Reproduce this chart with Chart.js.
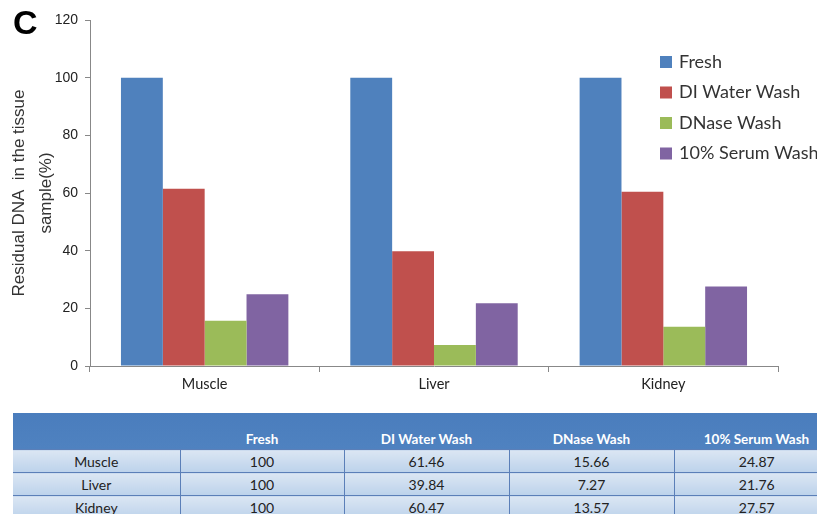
<!DOCTYPE html>
<html>
<head>
<meta charset="utf-8">
<script src="https://cdn.jsdelivr.net/npm/chart.js@4.4.0/dist/chart.umd.min.js"></script>
<style>
    html, body { margin: 0; padding: 0; background: #fff; overflow: hidden; }
    #wrap { position: relative; width: 817px; height: 514px; overflow: hidden; }
    #chartBox { position: absolute; left: 0; top: 0; width: 817px; height: 400px; }
    #panel { position: absolute; left: 13px; top: 3px; font: bold 34px "Liberation Sans", Arial, sans-serif; color: #000; }
    #dataTable { position: absolute; left: 13px; top: 413px; width: 826px; border-collapse: collapse; font-family: Lato, "Noto Sans", sans-serif; table-layout: fixed; }
    #dataTable th { background: linear-gradient(#4a7dbd, #4f82c0); color: #fff; font-size: 13.5px; font-weight: bold; height: 34px; vertical-align: bottom; padding: 0 0 2px 0; border: none; }
    #dataTable td { background: linear-gradient(#dbe6f3, #bcd2eb); color: #222; font-size: 14px; text-align: center; height: 22px; padding: 0; border-top: 1px solid #5b7fb8; border-left: 1px solid #5b7fb8; }
    #dataTable td:first-child { border-left: none; }
</style>
</head>
<body>
<div id="wrap">
    <div id="chartBox"><canvas id="dnaChart"></canvas></div>
    <div id="panel">C</div>
    <table id="dataTable"></table>
</div>
<script>
const tissues = ['Muscle', 'Liver', 'Kidney'];
const seriesNames = ['Fresh', 'DI Water Wash', 'DNase Wash', '10% Serum Wash'];
const fresh = [100, 100, 100];
const diWater = [61.46, 39.84, 60.47];
const dnase = [15.66, 7.27, 13.57];
const serum = [24.87, 21.76, 27.57];
const yTicks = [0, 20, 40, 60, 80, 100, 120];

const seriesValues = [fresh, diWater, dnase, serum];
const colors = ['#4f81bd', '#c0504d', '#9bbb59', '#8064a2'];

// table under the chart
const table = document.getElementById('dataTable');
const widths = [167, 164, 165, 165, 165];
let html = '<colgroup>' + widths.map(w => `<col style="width:${w}px">`).join('') + '</colgroup>';
html += '<tr><th></th>' + seriesNames.map(n => `<th>${n}</th>`).join('') + '</tr>';
tissues.forEach((t, i) => {
    html += `<tr><td>${t}</td>` + seriesValues.map(s => `<td>${s[i]}</td>`).join('') + '</tr>';
});
table.innerHTML = html;

// legend drawn inside the plot, Excel style
const insideLegend = {
    id: 'insideLegend',
    afterDraw(chart) {
        const c = chart.ctx;
        c.save();
        c.font = '18px Lato, "Noto Sans", sans-serif';
        c.textBaseline = 'middle';
        chart.data.datasets.forEach((ds, i) => {
            const y = 62 + i * 30.5;
            c.fillStyle = ds.backgroundColor;
            c.fillRect(660, y - 6, 12, 12);
            c.fillStyle = '#333';
            c.fillText(ds.label, 679, y);
        });
        c.restore();
    }
};

const ctx = document.getElementById('dnaChart').getContext('2d');
new Chart(ctx, {
    type: 'bar',
    data: {
        labels: tissues,
        datasets: seriesNames.map((name, i) => ({
            label: name,
            data: seriesValues[i],
            backgroundColor: colors[i],
            borderWidth: 0,
            categoryPercentage: 0.73,
            barPercentage: 1.0
        }))
    },
    options: {
        responsive: true,
        maintainAspectRatio: false,
        animation: false,
        layout: { padding: { left: 6, top: 20, right: 39, bottom: 4 } },
        plugins: {
            legend: { display: false },
            tooltip: { enabled: false }
        },
        scales: {
            x: {
                afterFit: s => { s.height = 30; },
                grid: { display: true, drawOnChartArea: false, drawTicks: true, tickLength: 6, color: '#888', offset: true },
                border: { color: '#888', width: 1 },
                ticks: { color: '#222', font: { family: 'Lato, "Noto Sans", sans-serif', size: 14.5 }, padding: 4 }
            },
            y: {
                min: 0,
                max: 120,
                afterFit: s => { s.width = 84; },
                afterBuildTicks: s => { s.ticks = yTicks.map(v => ({ value: v })); },
                grid: { display: true, drawOnChartArea: false, drawTicks: true, tickLength: 5, color: '#888' },
                border: { color: '#888', width: 1 },
                ticks: { color: '#222', font: { family: '"Liberation Sans", Arial, sans-serif', size: 14 }, padding: 7 },
                title: {
                    display: true,
                    text: ['Residual DNA  in the tissue', 'sample(%)'],
                    color: '#333',
                    font: { family: '"Liberation Sans", Arial, sans-serif', size: 17, lineHeight: 1.6 },
                    padding: { top: 0, bottom: 0 }
                }
            }
        }
    },
    plugins: [insideLegend]
});
</script>
</body>
</html>
